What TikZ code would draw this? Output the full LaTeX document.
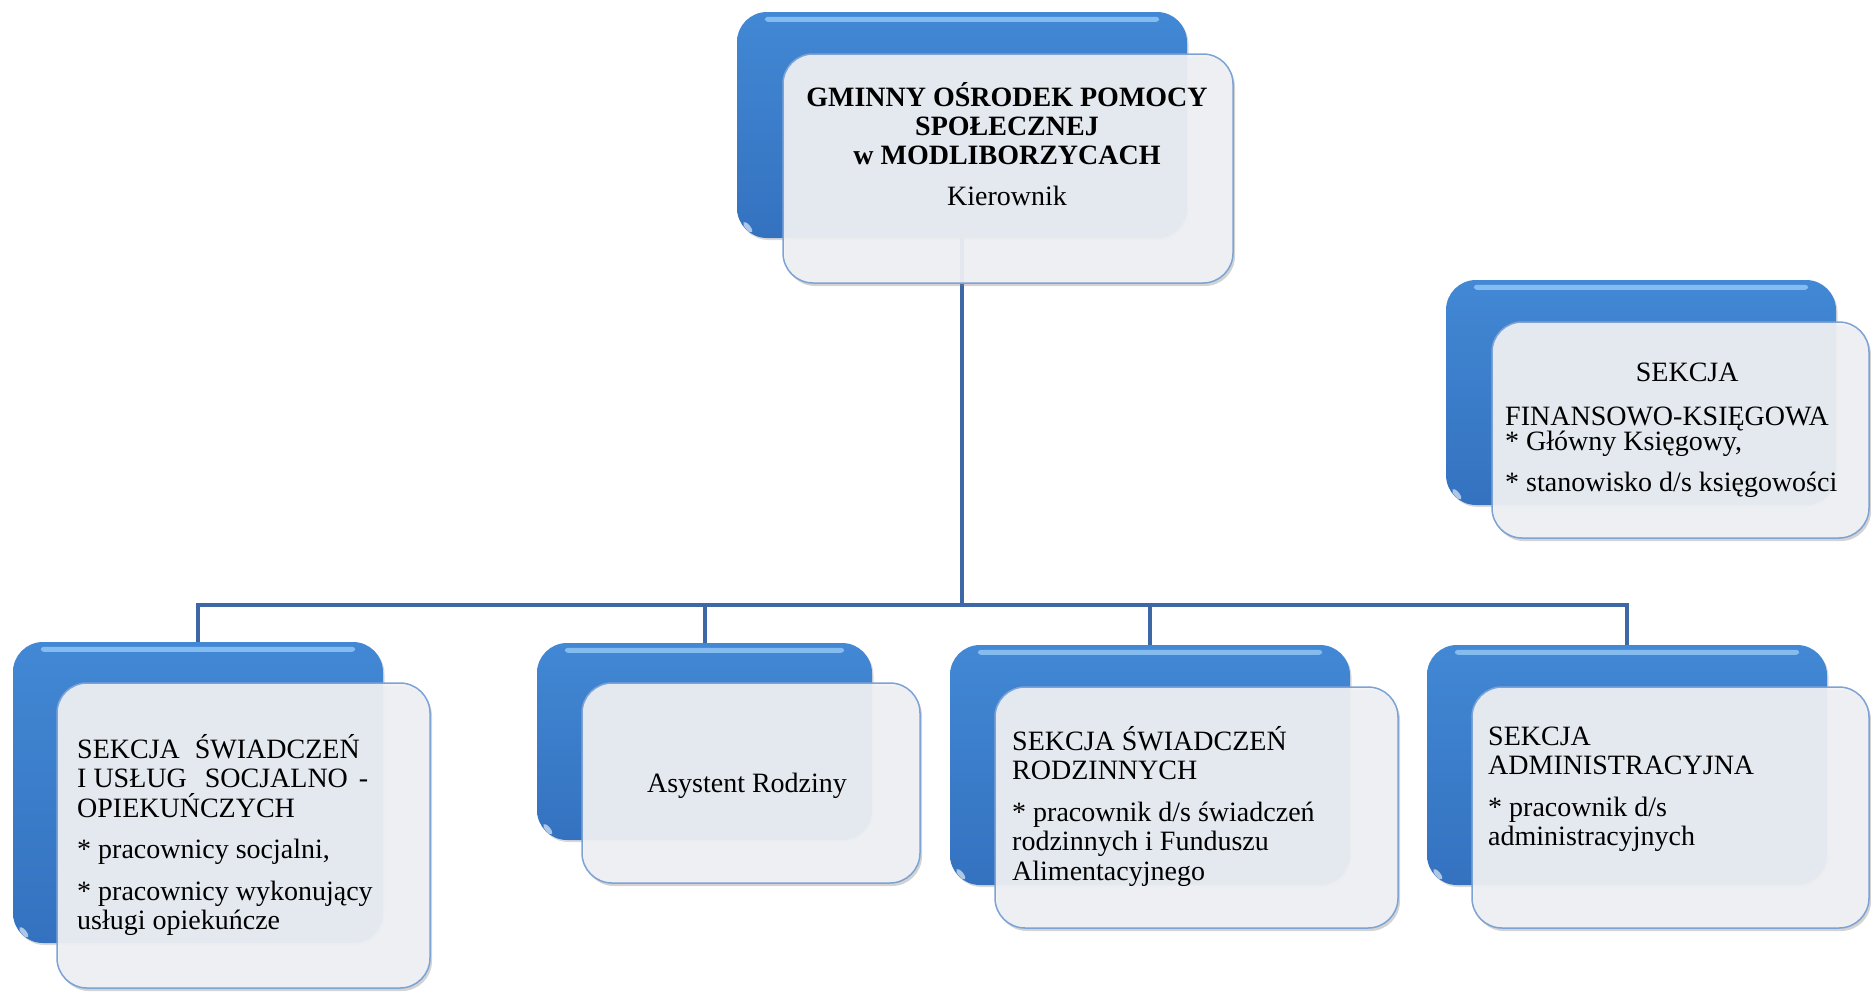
\documentclass[tikz,border=0pt]{standalone}
\usepackage{fontspec}
\setmainfont{Liberation Serif}
\usetikzlibrary{shadows,calc,shapes.geometric}
\definecolor{backtop}{RGB}{66,136,212}
\definecolor{backbot}{RGB}{52,114,192}
\definecolor{backhi}{RGB}{150,202,246}
\definecolor{frontfill}{RGB}{241,242,245}
\definecolor{frontedge}{RGB}{125,162,212}
\definecolor{conncol}{RGB}{62,104,165}
\newcommand{\Lstack}[1]{\vtop{\baselineskip=29.5pt\lineskip=0pt\lineskiplimit=-100pt\halign{##\hfil\cr#1\crcr}}}
\newcommand{\Cstack}[1]{\vtop{\baselineskip=29pt\lineskip=0pt\lineskiplimit=-100pt\halign{\hfil##\hfil\cr#1\crcr}}}
\newcommand{\gap}[1]{\noalign{\vskip#1}}
\tikzset{
  backbox/.style={rounded corners=30pt, top color=backtop, bottom color=backbot, draw=none, inner sep=0pt,
    drop shadow={shadow xshift=1.5pt, shadow yshift=-2pt, opacity=0.3}},
  frontbox/.style={rounded corners=30pt, fill=frontfill, fill opacity=0.92, draw=frontedge, line width=1.5pt, inner sep=0pt,
    drop shadow={shadow xshift=2pt, shadow yshift=-3pt, opacity=0.35}},
  glint/.style={ellipse, fill=white, opacity=0.6, minimum width=5pt, minimum height=13pt, inner sep=0pt, rotate=40},
  conn/.style={draw=conncol, line width=4pt},
  txt/.style={font=\fontsize{28}{30}\selectfont, inner sep=0pt},
}
\newcommand{\hilite}[1]{%
  \fill[backhi, rounded corners=3pt, opacity=0.8] ($(#1.north west)+(28,5)$) rectangle ($(#1.north east)+(-28,10)$);}
\begin{document}
\begin{tikzpicture}[x=1pt, y=-1pt]
\useasboundingbox (0,0) rectangle (1871,991);

\coordinate (bus) at (962,605);

% ---- back boxes ----
\node[backbox, minimum width=450pt, minimum height=226pt] (topback) at (962,125) {};
\node[backbox, minimum width=370pt, minimum height=301pt] (b1back) at (198,792.5) {};
\node[backbox, minimum width=335pt, minimum height=197pt] (b2back) at (704.5,741.5) {};
\node[backbox, minimum width=400pt, minimum height=240pt] (b3back) at (1150,765) {};
\node[backbox, minimum width=400pt, minimum height=240pt] (b4back) at (1627,765) {};
\node[backbox, minimum width=390pt, minimum height=225pt] (finback) at (1641,392.5) {};

\foreach \b in {topback,b1back,b2back,b3back,b4back,finback}{\hilite{\b}}

\node[glint] (g1) at ($(topback.south west)+(11,-11)$) {};
\node[glint] (g2) at ($(b1back.south west)+(11,-11)$) {};
\node[glint] (g3) at ($(b2back.south west)+(11,-11)$) {};
\node[glint] (g4) at ($(b3back.south west)+(11,-11)$) {};
\node[glint] (g5) at ($(b4back.south west)+(11,-11)$) {};
\node[glint] (g6) at ($(finback.south west)+(11,-11)$) {};

% ---- connectors ----
\draw[conn] (topback.south) -- (bus) -| (b1back.north);
\draw[conn] (topback.south) -- (bus) -| (b2back.north);
\draw[conn] (topback.south) -- (bus) -| (b3back.north);
\draw[conn] (topback.south) -- (bus) -| (b4back.north);

% ---- front boxes ----
\node[frontbox, minimum width=450pt, minimum height=229pt] (topfront) at (1008,168.5) {};
\node[frontbox, minimum width=373pt, minimum height=305pt] (b1front) at (243.5,835.5) {};
\node[frontbox, minimum width=338pt, minimum height=200pt] (b2front) at (751,783) {};
\node[frontbox, minimum width=403pt, minimum height=241pt] (b3front) at (1196.5,807.5) {};
\node[frontbox, minimum width=397pt, minimum height=241pt] (b4front) at (1670.5,807.5) {};
\node[frontbox, minimum width=377pt, minimum height=216pt] (finfront) at (1680.5,430) {};

% ---- texts ----
\node[txt, font=\fontsize{28}{30}\selectfont\bfseries, anchor=base] (ttop) at (1007,106)
  {\Cstack{GMINNY OŚRODEK POMOCY\cr SPOŁECZNEJ\cr w MODLIBORZYCACH\cr\gap{12pt}\mdseries Kierownik}};
\node[txt, anchor=base west] (tfin) at (1505,381)
  {\Lstack{\omit\hfil\hskip32pt SEKCJA\hfil\cr\gap{14.5pt}FINANSOWO-KSIĘGOWA\cr\gap{-4pt}* Główny Księgowy,\cr\gap{11.5pt}* stanowisko d/s księgowości}};
\node[txt, anchor=base west] (t1) at (77,758)
  {\Lstack{SEKCJA\hskip15pt ŚWIADCZEŃ\cr I USŁUG\hskip18pt SOCJALNO\hskip11pt -\cr OPIEKUŃCZYCH\cr\gap{12pt}* pracownicy socjalni,\cr\gap{12pt}* pracownicy wykonujący\cr usługi opiekuńcze}};
\node[txt, anchor=base] (t2) at (747,792) {Asystent Rodziny};
\node[txt, anchor=base west] (t3) at (1012,750)
  {\Lstack{SEKCJA ŚWIADCZEŃ\cr RODZINNYCH\cr\gap{12pt}* pracownik d/s świadczeń\cr rodzinnych i Funduszu\cr Alimentacyjnego}};
\node[txt, anchor=base west] (t4) at (1488,745)
  {\Lstack{SEKCJA\cr ADMINISTRACYJNA\cr\gap{12pt}* pracownik d/s\cr administracyjnych}};
\end{tikzpicture}
\end{document}
